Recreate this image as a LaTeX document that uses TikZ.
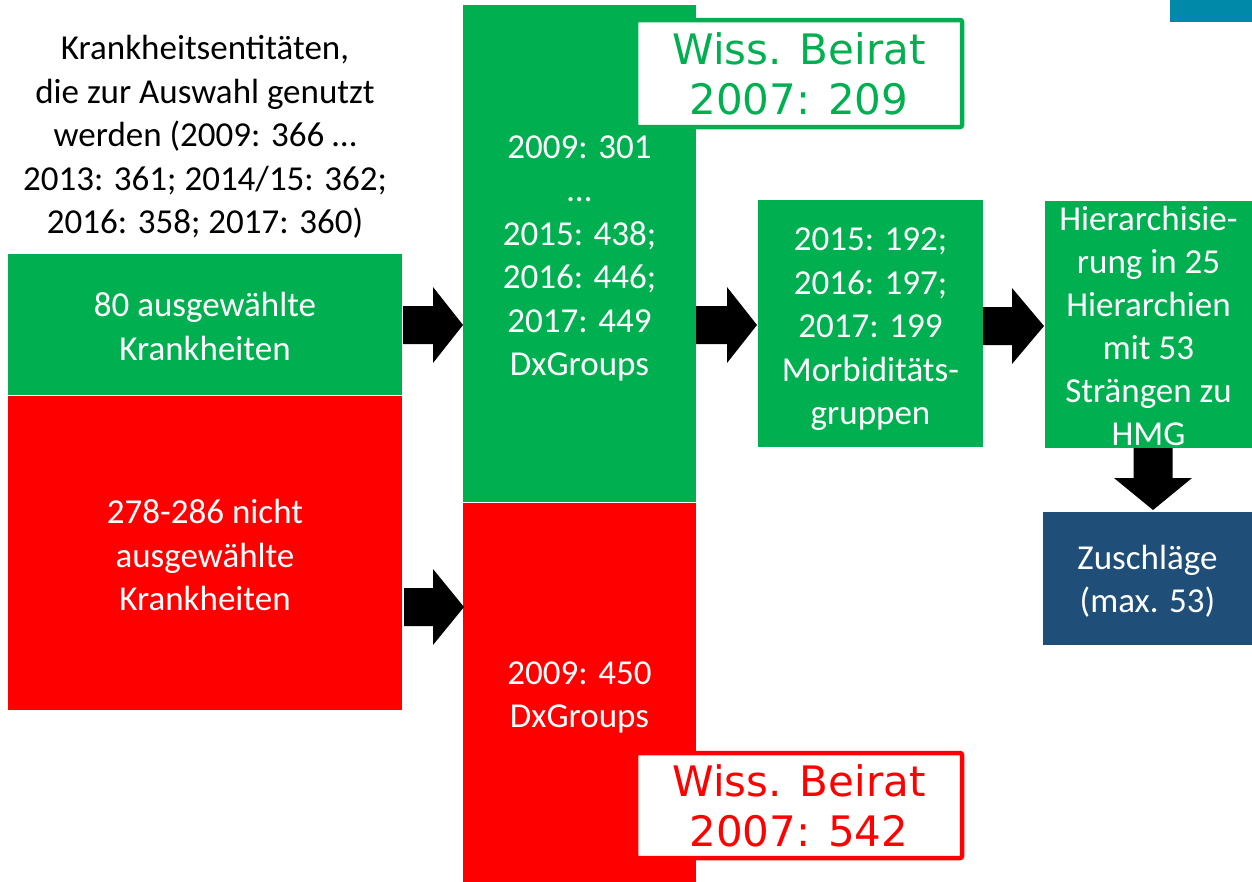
\documentclass[tikz,border=0pt]{standalone}
\usepackage{fontspec}
\setmainfont{Carlito}
\newfontfamily\vfont{DejaVu Sans}
\definecolor{pgreen}{HTML}{00B050}
\definecolor{pred}{HTML}{FF0000}
\definecolor{pblue}{HTML}{1F4E79}
\definecolor{pteal}{HTML}{0089A8}
\newcommand\myrarrow[4]{% x0, xhead, xtip, yc
  \fill[black] (#1,#4-19) -- (#2,#4-19) -- (#2,#4-38) -- (#3,#4) -- (#2,#4+38) -- (#2,#4+19) -- (#1,#4+19) -- cycle;}
\begin{document}
\begin{tikzpicture}[x=1pt,y=-1pt,
  box/.style={anchor=north west, inner sep=0, outer sep=0},
  txt/.style={inner sep=0, outer sep=0, align=center, text=white,
    font=\fontsize{35}{43.5}\selectfont},
  wbox/.style={anchor=north west, inner sep=0, outer sep=0, align=center, fill=white,
    line width=4.5pt, rounded corners=2pt, font=\vfont\fontsize{42}{50}\selectfont}]
\useasboundingbox (0,0) rectangle (1252,881);
\fill[pteal] (1170,0) rectangle (1252,22);

\node[txt, text=black] (intro) at (205,137)
  {Krankheitsentitäten,\\die zur Auswahl genutzt\\werden (2009: 366 …\\2013: 361; 2014/15: 362;\\2016: 358; 2017: 360)};

\node[box, fill=pgreen, minimum width=394, minimum height=141] (g1) at (8,254) {};
\node[txt] (g1t) at ([yshift=-2pt]g1.center) {80 ausgewählte\\Krankheiten};
\node[box, fill=pred, minimum width=394, minimum height=314] (r1) at (8,396) {};
\node[txt] (r1t) at ([yshift=-2pt]r1.center) {278-286 nicht\\ausgewählte\\Krankheiten};

\node[box, fill=pgreen, minimum width=233, minimum height=497] (g2) at (463,5) {};
\node[txt] (g2t) at ([yshift=-5pt]g2.center) {2009: 301\\…\\2015: 438;\\2016: 446;\\2017: 449\\DxGroups};
\node[box, fill=pred, minimum width=233, minimum height=379] (r2) at (463,503) {};
\node[txt] (r2t) at ([yshift=-5pt]r2.center) {2009: 450\\DxGroups};

\node[wbox, draw=pgreen, text=pgreen, minimum width=326, minimum height=107] (wg) at (636,20) {Wiss. Beirat\\2007: 209};
\node[wbox, draw=pred, text=pred, minimum width=326, minimum height=105] (wr) at (636,753) {Wiss. Beirat\\2007: 542};

\node[box, fill=pgreen, minimum width=225, minimum height=247] (g3) at (758,200) {};
\node[txt] (g3t) at ([yshift=-6pt]g3.center) {2015: 192;\\2016: 197;\\2017: 199\\Morbiditäts-\\gruppen};
\node[box, fill=pgreen, minimum width=207, minimum height=247] (g4) at (1045,201) {};
\node[txt, font=\fontsize{35}{43}\selectfont] (g4t) at ([yshift=-1pt]g4.center) {Hierarchisie-\\rung in 25\\Hierarchien\\mit 53\\Strängen zu\\HMG};
\node[box, fill=pblue, minimum width=209, minimum height=133] (b1) at (1043,512) {};
\node[txt] (b1t) at ([yshift=-3pt]b1.center) {Zuschläge\\(max. 53)};

\myrarrow{403}{433}{463}{325}
\myrarrow{404}{433}{464}{607}
\myrarrow{696}{727}{757}{325}
\myrarrow{983}{1012}{1044}{326}
\fill[black] (1133.5,448) -- (1172.5,448) -- (1172.5,478) -- (1192,478) -- (1153,510) -- (1114,478) -- (1133.5,478) -- cycle;
\end{tikzpicture}
\end{document}
